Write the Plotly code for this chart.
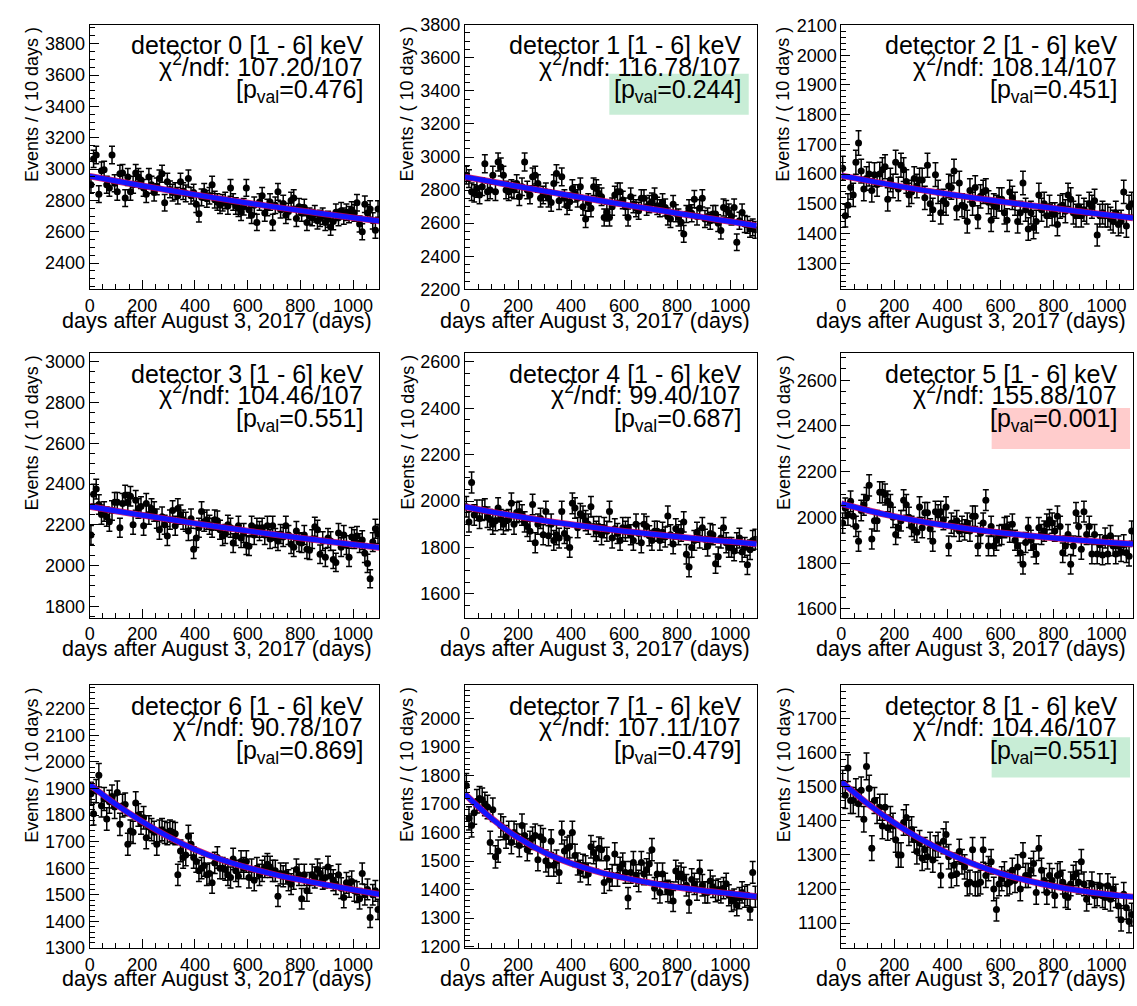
import math
import plotly.graph_objects as go

W, H = 1137, 1006
FONT = "Liberation Sans, Arial, Helvetica, sans-serif"

# bin centres (10-day bins, 0 - 1100 days)
days = [5 + 10 * i for i in range(110)]

det0 = [2900, 3065, 3090, 2840, 2990, 2995, 2900, 2880, 3090, 2910,
        2855, 2970, 2975, 2815, 2950, 2855, 2900, 2975, 2950, 2930,
        2880, 2840, 2950, 2900, 2850, 2890, 2940, 2970, 2785, 2920,
        2870, 2850, 2860, 2830, 2920, 2860, 2845, 2940, 2830, 2850,
        2775, 2715, 2820, 2855, 2810, 2830, 2900, 2805, 2790, 2770,
        2785, 2800, 2765, 2880, 2790, 2765, 2750, 2725, 2760, 2880,
        2740, 2705, 2770, 2660, 2790, 2830, 2720, 2755, 2790, 2660,
        2770, 2855, 2740, 2780, 2705, 2730, 2800, 2815, 2685, 2760,
        2720, 2755, 2660, 2700, 2690, 2715, 2670, 2685, 2700, 2660,
        2680, 2630, 2665, 2725, 2690, 2735, 2700, 2725, 2710, 2740,
        2720, 2785, 2650, 2600, 2775, 2720, 2745, 2670, 2610, 2745]
det1 = [2890, 2870, 2790, 2780, 2810, 2770, 2820, 2960, 2790, 2800,
        2890, 2790, 2970, 2940, 2890, 2800, 2790, 2810, 2800, 2840,
        2760, 2820, 2970, 2800, 2770, 2880, 2890, 2840, 2750, 2770,
        2790, 2750, 2725, 2840, 2900, 2735, 2880, 2750, 2705, 2730,
        2810, 2780, 2750, 2820, 2700, 2625, 2725, 2690, 2820, 2810,
        2780, 2760, 2635, 2665, 2635, 2700, 2770, 2790, 2790, 2740,
        2700, 2635, 2760, 2715, 2690, 2675, 2750, 2750, 2700, 2715,
        2730, 2760, 2705, 2690, 2725, 2695, 2640, 2625, 2715, 2660,
        2635, 2605, 2535, 2655, 2690, 2660, 2745, 2640, 2690, 2750,
        2625, 2640, 2615, 2655, 2655, 2600, 2555, 2695, 2685, 2665,
        2640, 2695, 2485, 2615, 2665, 2595, 2590, 2565, 2575, 2560]
det2 = [1620, 1460, 1495, 1555, 1530, 1640, 1705, 1610, 1550, 1585,
        1600, 1545, 1598, 1565, 1600, 1615, 1625, 1515, 1580, 1560,
        1640, 1550, 1630, 1615, 1575, 1530, 1540, 1585, 1560, 1580,
        1580, 1520, 1630, 1500, 1480, 1598, 1540, 1470, 1510, 1500,
        1560, 1555, 1610, 1485, 1570, 1495, 1490, 1440, 1545, 1500,
        1555, 1455, 1525, 1540, 1545, 1505, 1445, 1495, 1490, 1515,
        1515, 1470, 1445, 1540, 1520, 1500, 1440, 1470, 1570, 1480,
        1415, 1470, 1420, 1440, 1530, 1480, 1500, 1460, 1490, 1465,
        1465, 1430, 1490, 1495, 1475, 1530, 1515, 1470, 1460, 1490,
        1460, 1480, 1470, 1500, 1490, 1510, 1395, 1460, 1470, 1460,
        1460, 1450, 1440, 1470, 1430, 1440, 1540, 1425, 1490, 1500]
det3 = [2150, 2350, 2375, 2300, 2250, 2265, 2240, 2215, 2270, 2310,
        2310, 2185, 2305, 2345, 2310, 2340, 2200, 2320, 2280, 2290,
        2195, 2305, 2250, 2280, 2265, 2230, 2175, 2240, 2200, 2145,
        2225, 2270, 2195, 2280, 2250, 2225, 2215, 2170, 2230, 2080,
        2135, 2185, 2265, 2215, 2225, 2200, 2185, 2225, 2220, 2175,
        2145, 2155, 2200, 2185, 2110, 2145, 2195, 2135, 2160, 2100,
        2095, 2195, 2150, 2185, 2170, 2185, 2150, 2195, 2130, 2195,
        2135, 2120, 2155, 2140, 2195, 2150, 2105, 2090, 2170, 2115,
        2110, 2150, 2080, 2075, 2130, 2190, 2175, 2055, 2120, 2040,
        2135, 2120, 2030, 2015, 2160, 2090, 2150, 2100, 2040, 2140,
        2130, 2145, 2110, 2125, 2060, 2010, 1935, 2115, 2180, 2155]
det4 = [1975, 1910, 2080, 1940, 1960, 1925, 1960, 1965, 1930, 1920,
        1900, 1915, 1970, 1920, 1900, 1915, 1920, 1990, 1900, 1950,
        1955, 1940, 1910, 1890, 1870, 1985, 1820, 1900, 1925, 1855,
        1955, 1850, 1900, 1830, 1855, 1840, 1955, 1860, 1840, 1800,
        1990, 1970, 1885, 1945, 1935, 1915, 1900, 1975, 1890, 1870,
        1890, 1855, 1885, 1870, 1955, 1840, 1880, 1860, 1830, 1885,
        1870, 1885, 1855, 1830, 1900, 1860, 1820, 1900, 1890, 1850,
        1830, 1870, 1870, 1830, 1865, 1845, 1935, 1855, 1815, 1880,
        1855, 1870, 1910, 1770, 1715, 1800, 1830, 1865, 1840, 1885,
        1835, 1805, 1860, 1855, 1730, 1760, 1840, 1885, 1820, 1800,
        1800, 1785, 1820, 1840, 1780, 1800, 1725, 1790, 1830, 1835]
det5 = [1975, 2040, 2010, 2070, 2005, 1960, 1895, 2030, 2055, 2085,
        2140, 1905, 1985, 1985, 2110, 2110, 2100, 2070, 2055, 2000,
        1925, 1955, 1985, 2075, 2055, 2000, 1960, 1945, 1935, 2045,
        1955, 2020, 2020, 1950, 1895, 2025, 2010, 2025, 1990, 2045,
        1875, 1975, 1960, 1985, 1940, 1960, 1945, 1975, 1940, 2005,
        2005, 1875, 1930, 1975, 2075, 1875, 1960, 1875, 1900, 1920,
        1925, 1955, 1960, 1935, 1970, 1900, 1875, 1845, 1795, 1890,
        1955, 1900, 1870, 1840, 1955, 1925, 1940, 1970, 1990, 1975,
        1940, 2005, 1960, 1845, 1875, 1925, 1795, 1875, 2020, 1960,
        1860, 2025, 1925, 1960, 1840, 1925, 1840, 1880, 1835, 1910,
        1840, 1920, 1875, 1840, 1875, 1850, 1880, 1845, 1830, 1940]
det6 = [1880, 1805, 1890, 1950, 1835, 1860, 1785, 1850, 1870, 1830,
        1885, 1765, 1835, 1840, 1690, 1740, 1735, 1845, 1800, 1770,
        1790, 1715, 1755, 1745, 1735, 1690, 1740, 1745, 1735, 1730,
        1740, 1735, 1730, 1575, 1665, 1640, 1650, 1720, 1690, 1640,
        1625, 1590, 1600, 1610, 1575, 1580, 1545, 1620, 1640, 1600,
        1600, 1595, 1575, 1565, 1635, 1590, 1570, 1625, 1600, 1625,
        1565, 1595, 1555, 1600, 1575, 1590, 1605, 1615, 1605, 1590,
        1590, 1495, 1580, 1570, 1580, 1555, 1540, 1560, 1595, 1575,
        1485, 1575, 1515, 1545, 1575, 1565, 1595, 1580, 1560, 1565,
        1605, 1570, 1555, 1540, 1575, 1525, 1490, 1545, 1530, 1550,
        1515, 1510, 1485, 1580, 1500, 1520, 1415, 1500, 1515, 1445]
det7 = [1765, 1650, 1625, 1670, 1710, 1720, 1715, 1700, 1690, 1565,
        1680, 1515, 1535, 1625, 1615, 1585, 1600, 1565, 1600, 1590,
        1555, 1625, 1590, 1540, 1565, 1580, 1590, 1505, 1585, 1575,
        1500, 1485, 1570, 1485, 1500, 1460, 1600, 1535, 1545, 1550,
        1600, 1520, 1490, 1465, 1485, 1480, 1455, 1550, 1530, 1510,
        1545, 1540, 1425, 1510, 1435, 1450, 1525, 1450, 1475, 1490,
        1460, 1370, 1460, 1495, 1450, 1430, 1495, 1455, 1470, 1490,
        1540, 1405, 1455, 1390, 1455, 1420, 1395, 1390, 1360, 1465,
        1445, 1455, 1440, 1415, 1355, 1435, 1420, 1400, 1465, 1415,
        1390, 1390, 1430, 1410, 1395, 1400, 1390, 1405, 1420, 1380,
        1360, 1365, 1345, 1370, 1390, 1375, 1380, 1330, 1460, 1375]
det8 = [1510, 1475, 1555, 1460, 1460, 1485, 1450, 1490, 1405, 1560,
        1495, 1320, 1460, 1430, 1440, 1385, 1440, 1380, 1405, 1385,
        1345, 1300, 1300, 1395, 1410, 1365, 1375, 1345, 1310, 1335,
        1290, 1315, 1295, 1330, 1285, 1320, 1330, 1240, 1340, 1360,
        1295, 1240, 1270, 1245, 1310, 1280, 1265, 1215, 1220, 1315,
        1215, 1215, 1220, 1315, 1240, 1260, 1280, 1200, 1140, 1215,
        1230, 1245, 1215, 1220, 1255, 1225, 1265, 1200, 1300, 1240,
        1240, 1255, 1275, 1190, 1320, 1255, 1225, 1190, 1240, 1225,
        1180, 1240, 1245, 1220, 1180, 1175, 1215, 1235, 1245, 1220,
        1280, 1215, 1170, 1190, 1215, 1180, 1185, 1210, 1180, 1175,
        1210, 1170, 1200, 1180, 1150, 1110, 1185, 1145, 1105, 1125]

# fitted curve read at 100-day nodes
fit_days = [0, 100, 200, 300, 400, 500, 600, 700, 800, 900, 1000, 1100]
fit0 = [2955, 2924, 2894, 2865, 2837, 2810, 2784, 2759, 2735, 2712, 2690, 2669]
fit1 = [2880, 2851, 2822, 2794, 2766, 2739, 2712, 2686, 2660, 2635, 2610, 2585]
fit2 = [1595, 1578, 1562, 1547, 1533, 1520, 1508, 1496, 1485, 1474, 1463, 1452]
fit3 = [2290, 2268, 2247, 2227, 2207, 2188, 2170, 2152, 2135, 2119, 2103, 2088]
fit4 = [1975, 1953, 1933, 1915, 1899, 1884, 1870, 1858, 1846, 1835, 1825, 1815]
fit5 = [2060, 2030, 2004, 1982, 1963, 1947, 1933, 1921, 1910, 1900, 1891, 1883]
fit6 = [1915, 1840, 1775, 1718, 1670, 1632, 1602, 1577, 1556, 1537, 1519, 1502]
fit7 = [1735, 1650, 1582, 1530, 1492, 1463, 1441, 1423, 1408, 1396, 1386, 1376]
fit8 = [1515, 1450, 1394, 1346, 1306, 1273, 1246, 1225, 1208, 1195, 1185, 1177]

detectors = ["0", "1", "2", "3", "4", "5", "6", "7", "8"]
chi2 = ["107.20", "116.78", "108.14", "104.46", "99.40", "155.88", "90.78", "107.11", "104.46"]
pvals = ["0.476", "0.244", "0.451", "0.551", "0.687", "0.001", "0.869", "0.479", "0.551"]
y_ranges = [[2233, 3921], [2200, 3800], [1212, 2103],
            [1744, 3043], [1497, 2638], [1561, 2719],
            [1300, 2288], [1195, 2117], [1027, 1798]]
y_ticklabels = [[2400, 2600, 2800, 3000, 3200, 3400, 3600, 3800],
                [2200, 2400, 2600, 2800, 3000, 3200, 3400, 3600, 3800],
                [1300, 1400, 1500, 1600, 1700, 1800, 1900, 2000, 2100],
                [1800, 2000, 2200, 2400, 2600, 2800, 3000],
                [1600, 1800, 2000, 2200, 2400, 2600],
                [1600, 1800, 2000, 2200, 2400, 2600],
                [1300, 1400, 1500, 1600, 1700, 1800, 1900, 2000, 2100, 2200],
                [1200, 1300, 1400, 1500, 1600, 1700, 1800, 1900, 2000],
                [1100, 1200, 1300, 1400, 1500, 1600, 1700]]
y_minor = [50, 50, 20, 50, 50, 50, 20, 20, 20]
x_ticklabels = [0, 200, 400, 600, 800, 1000]

data = [det0, det1, det2, det3, det4, det5, det6, det7, det8]
fits = [fit0, fit1, fit2, fit3, fit4, fit5, fit6, fit7, fit8]

# layout geometry (pixels)
cols = [(85, 376), (462, 755), (840, 1133)]
rows = [(15, 285), (350, 620), (689, 957)]
highlight = {1: ("rgb(200,237,214)", 607, 747, 65, 107),
             5: ("rgb(255,204,204)", 991, 1130, 406, 448),
             8: ("rgb(200,237,214)", 991, 1130, 742, 783)}


def px(x):
    return x / W


def py(y):
    return 1 - y / H


fig = go.Figure()
annotations = []
shapes = []
layout = {}

for k in range(9):
    r, c = divmod(k, 3)
    x0, x1 = cols[c]
    y0, y1 = rows[r]
    sfx = "" if k == 0 else str(k + 1)
    xa, ya = "x" + sfx, "y" + sfx
    vals = data[k]
    errs = [math.sqrt(v) for v in vals]

    fig.add_trace(go.Scatter(
        x=days, y=vals, mode="markers", xaxis=xa, yaxis=ya,
        marker=dict(color="black", size=7),
        error_y=dict(type="data", array=errs, visible=True,
                     color="black", thickness=1.5, width=3),
        showlegend=False, hoverinfo="skip"))
    fig.add_trace(go.Scatter(
        x=fit_days, y=fits[k], mode="lines", xaxis=xa, yaxis=ya,
        line=dict(color="rgba(210,0,90,0.85)", width=6.5, shape="spline"),
        showlegend=False, hoverinfo="skip"))
    fig.add_trace(go.Scatter(
        x=fit_days, y=fits[k], mode="lines", xaxis=xa, yaxis=ya,
        line=dict(color="rgb(20,20,255)", width=5, shape="spline"),
        showlegend=False, hoverinfo="skip"))

    common = dict(showline=True, linecolor="black", linewidth=1, mirror=True,
                  showgrid=False, zeroline=False, ticks="inside",
                  ticklen=9, tickwidth=1, tickcolor="black",
                  tickfont=dict(family=FONT, size=18, color="black"))
    layout["xaxis" + sfx] = dict(
        common, domain=[px(x0), px(x1)], anchor=ya, range=[0, 1100],
        tickmode="array", tickvals=x_ticklabels,
        minor=dict(tickmode="linear", tick0=0, dtick=50, ticks="inside",
                   ticklen=5, tickcolor="black"))
    layout["yaxis" + sfx] = dict(
        common, domain=[py(y1), py(y0)], anchor=xa, range=y_ranges[k],
        tickmode="array", tickvals=y_ticklabels[k],
        minor=dict(tickmode="linear", tick0=0, dtick=y_minor[k], ticks="inside",
                   ticklen=5, tickcolor="black"))

    if k in highlight:
        col, bx0, bx1, by0, by1 = highlight[k]
        shapes.append(dict(type="rect", xref="paper", yref="paper",
                           x0=px(bx0), x1=px(bx1), y0=py(by1), y1=py(by0),
                           fillcolor=col, line=dict(width=0), layer="above"))

    tx = px(x1 - 14)
    tfont = dict(family=FONT, size=25, color="black")
    annotations.append(dict(xref="paper", yref="paper", x=tx, y=py(y0 + 21),
                            xanchor="right", yanchor="middle", showarrow=False,
                            text="detector %s [1 - 6] keV" % detectors[k], font=tfont))
    annotations.append(dict(xref="paper", yref="paper", x=tx, y=py(y0 + 41),
                            xanchor="right", yanchor="middle", showarrow=False,
                            text="χ<sup>2</sup>/ndf: %s/107" % chi2[k], font=tfont))
    annotations.append(dict(xref="paper", yref="paper", x=tx, y=py(y0 + 68),
                            xanchor="right", yanchor="middle", showarrow=False,
                            text="[p<sub>val</sub>=%s]" % pvals[k], font=tfont))
    # axis titles
    annotations.append(dict(xref="paper", yref="paper", x=px(x1 - 5), y=py(y1 + 32),
                            xanchor="right", yanchor="middle", showarrow=False,
                            text="days after August 3, 2017 (days)",
                            font=dict(family=FONT, size=21.5, color="black")))
    annotations.append(dict(xref="paper", yref="paper", x=px(x0 - 58), y=py(y0),
                            xanchor="center", yanchor="top", showarrow=False,
                            textangle=-90, text="Events / ( 10 days )",
                            font=dict(family=FONT, size=18, color="black")))

fig.update_layout(**layout)
fig.update_layout(width=W, height=H, margin=dict(l=0, r=0, t=0, b=0),
                  paper_bgcolor="white", plot_bgcolor="white",
                  annotations=annotations, shapes=shapes, showlegend=False)

fig.write_html("out.html", config={"displayModeBar": False},
               post_script="document.body.style.margin='0';document.body.style.overflow='hidden';")
